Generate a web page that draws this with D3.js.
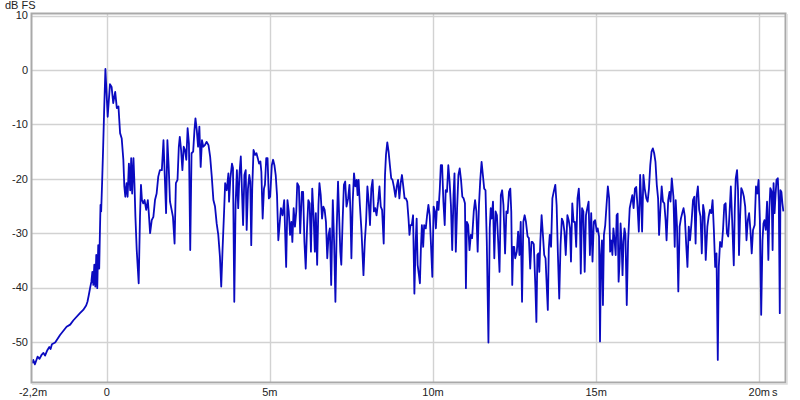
<!DOCTYPE html>
<html><head><meta charset="utf-8">
<script src="https://cdn.jsdelivr.net/npm/d3@7"></script>
<style>
html,body{margin:0;padding:0;background:#fff;}
svg text{font-family:"Liberation Sans",Arial,sans-serif;font-size:11px;fill:#222;}
</style></head>
<body><svg id="c" width="800" height="400"></svg>
<script>
// Impulse response level (dB FS) vs time (ms)
const timeMs = [
-2.28,-2.25,-2.20,-2.12,-2.06,-1.99,-1.94,-1.89,-1.82,-1.76,-1.72,-1.68,-1.58,-1.43,-1.23,-1.12,-1.02,-0.82,-0.72,-0.63,-0.59,-0.55,-0.51,-0.47,-0.44,-0.41,-0.38,-0.35,-0.32,-0.29,-0.26,-0.23,-0.21,-0.19,-0.17,-0.14,-0.11,-0.08,-0.04,
0.03,0.10,0.15,0.20,0.26,0.31,0.36,0.41,0.46,0.51,0.54,0.57,0.61,0.64,0.68,0.72,0.75,0.78,0.82,0.85,0.88,0.92,0.98,1.02,1.05,1.08,1.12,1.16,1.21,1.26,1.29,1.33,1.38,1.43,1.48,1.53,1.58,1.63,1.69,1.74,1.78,1.82,1.86,1.90,1.94,1.99,2.03,2.08,2.12,2.17,2.21,2.24,2.28,2.32,2.36,2.40,2.44,2.48,2.52,2.56,2.60,2.65,2.69,2.72,2.76,2.80,2.84,2.88,2.92,2.96,3.01,3.06,3.12,3.17,3.22,3.27,3.32,3.37,3.42,3.47,3.51,3.55,3.60,3.63,3.68,3.73,
3.75,3.79,3.84,3.87,3.91,3.95,3.99,4.03,4.07,4.11,4.15,4.18,4.22,4.26,4.29,4.33,4.37,4.40,4.43,4.46,4.50,4.55,4.59,4.63,4.67,4.71,4.74,4.78,4.82,4.85,4.89,4.93,4.97,5.01,5.06,5.10,5.14,5.18,5.22,5.26,
5.34,5.39,5.44,5.50,5.54,5.58,5.62,5.66,5.69,5.73,5.77,5.81,5.84,5.89,5.93,5.98,6.02,6.06,6.10,6.14,6.18,6.22,6.26,6.30,6.34,6.38,6.41,6.45,6.49,6.52,6.56,6.60,6.64,6.68,6.72,6.76,6.80,6.84,6.88,6.93,6.97,7.01,7.05,7.09,7.13,7.16,7.19,7.23,7.27,7.31,7.35,7.40,7.44,7.47,7.50,7.54,7.58,7.62,7.66,7.69,7.72,7.76,7.81,7.87,7.91,7.95,7.99,8.03,8.07,8.11,8.15,8.19,8.23,8.27,8.32,8.36,8.40,8.44,8.49,8.53,8.56,8.60,8.64,8.68,8.72,8.76,8.80,8.85,8.89,8.93,8.97,9.01,9.05,9.09,9.13,9.17,9.21,9.25,9.28,
9.31,9.35,9.39,9.43,9.47,9.50,9.53,9.57,9.60,9.63,9.66,9.70,9.73,9.78,9.82,9.86,9.90,9.94,9.98,10.02,10.06,10.09,10.13,10.17,10.21,10.24,10.28,10.32,10.36,10.39,10.43,10.47,10.51,10.55,10.59,10.63,10.66,10.70,10.74,10.78,10.82,10.86,10.90,10.94,10.98,11.01,11.04,11.08,11.12,11.16,11.20,11.25,11.29,11.33,11.37,11.41,11.45,11.49,11.53,11.57,11.61,11.65,11.70,11.74,11.77,11.80,11.84,11.88,11.92,11.96,12.00,12.04,12.08,12.12,12.16,12.21,12.25,12.29,12.33,12.37,12.40,12.43,12.46,12.49,12.52,12.57,12.61,12.65,12.69,12.73,12.77,12.81,12.85,12.90,12.94,12.98,13.02,13.05,13.09,
13.14,13.17,13.20,13.23,13.26,13.29,13.33,13.37,13.41,13.45,13.49,13.52,13.55,13.58,13.62,13.66,13.70,13.75,13.79,13.83,13.87,13.91,13.95,13.99,14.03,14.07,14.12,14.16,14.20,14.23,14.27,14.31,14.35,14.39,14.43,14.47,14.50,14.53,14.57,14.61,14.65,14.69,14.73,14.77,14.81,14.85,14.89,14.93,14.97,15.02,15.05,15.09,15.12,15.15,15.18,15.21,15.24,15.28,15.32,15.36,15.40,15.43,15.46,15.50,15.53,15.57,15.60,15.63,15.66,15.69,15.72,15.75,15.78,15.81,15.84,15.87,15.90,15.94,15.98,16.03,16.07,16.11,16.15,16.19,16.23,16.27,16.31,16.35,16.38,16.41,16.45,16.49,16.54,16.58,16.62,16.66,16.70,16.74,16.78,16.82,16.86,16.90,16.93,
16.97,17.01,17.05,17.09,17.13,17.16,17.21,17.25,17.28,17.32,17.37,17.41,17.44,17.48,17.52,17.56,17.60,17.64,17.68,17.72,17.76,17.80,17.84,17.88,17.93,17.97,18.01,18.05,18.08,18.12,18.16,18.20,18.24,18.28,18.32,18.36,18.41,18.45,18.49,18.53,18.57,18.61,18.65,18.69,18.73,18.76,18.80,18.85,18.89,18.93,18.97,19.01,19.05,19.09,19.13,19.17,19.22,19.25,19.28,19.32,19.35,19.38,19.41,19.45,19.49,19.53,19.57,19.61,19.65,19.69,19.73,19.77,19.81,19.86,19.90,19.94,19.98,20.02,20.06,20.10,20.13,20.16,20.20,20.24,20.28,20.31,20.34,20.38,20.41,20.44,20.47,20.50,20.53,20.57,20.60,20.63,20.65,20.68,20.71,20.74,20.78
];
const levelDb = [
-53.9,-53.3,-54.1,-52.7,-53.1,-52.3,-52.0,-52.5,-51.5,-50.9,-51.3,-50.4,-50.1,-48.7,-47.2,-46.8,-46.0,-44.7,-44.1,-43.3,-42.6,-41.4,-40.1,-38.9,-37.1,-39.5,-35.8,-39.8,-34.0,-40.1,-32.2,-36.5,-30.3,-24.8,-26.0,-20.5,-14.4,-7.7,0.2,
-8.6,-2.6,-3.1,-6.1,-4.0,-7.0,-6.7,-11.6,-12.6,-16.5,-21.4,-23.3,-20.8,-23.3,-17.2,-22.1,-16.2,-22.7,-16.2,-20.8,-27.0,-33.1,-39.2,-27.0,-21.1,-23.9,-24.5,-23.9,-25.7,-23.9,-26.3,-30.0,-27.6,-27.0,-23.9,-22.7,-19.6,-18.4,-18.4,-12.9,-19.6,-26.3,-12.9,-17.8,-24.2,-25.7,-27.0,-31.9,-20.8,-20.2,-14.1,-12.3,-14.7,-18.4,-14.1,-14.7,-16.5,-10.7,-13.5,-33.1,-15.3,-15.0,-11.0,-8.9,-11.0,-14.1,-10.4,-17.8,-12.9,-14.1,-13.8,-13.2,-13.8,-15.9,-19.6,-23.9,-25.1,-28.2,-30.3,-34.3,-39.8,-33.1,-25.7,-20.8,-22.1,-19.0,
-24.2,-19.9,-17.2,-18.0,-42.6,-24.8,-18.4,-25.4,-19.0,-15.9,-23.0,-28.5,-19.3,-18.4,-29.4,-21.8,-19.3,-20.5,-32.2,-21.8,-14.7,-15.6,-15.3,-16.2,-17.2,-16.8,-18.7,-27.3,-21.8,-21.1,-16.2,-16.2,-23.6,-23.3,-17.5,-16.5,-17.5,-19.3,-23.0,-31.3,
-25.4,-26.7,-23.9,-36.2,-23.9,-26.0,-30.3,-27.9,-31.6,-25.4,-28.8,-26.0,-20.8,-21.4,-30.0,-22.4,-22.4,-31.6,-36.5,-29.1,-23.9,-24.5,-33.4,-21.8,-26.7,-33.4,-26.3,-35.8,-24.8,-20.8,-23.0,-27.3,-25.1,-25.7,-27.9,-34.6,-30.3,-29.1,-39.5,-23.9,-31.6,-42.6,-29.1,-20.5,-27.9,-33.4,-35.8,-27.9,-21.1,-20.5,-25.1,-23.6,-21.1,-26.0,-34.6,-24.2,-19.0,-21.4,-20.2,-23.0,-20.2,-24.8,-29.7,-37.7,-31.6,-27.9,-21.4,-24.2,-28.5,-21.8,-20.2,-26.0,-25.4,-26.7,-24.2,-21.4,-25.1,-25.7,-31.9,-19.3,-15.6,-13.3,-15.0,-17.5,-19.9,-20.2,-21.4,-23.3,-21.4,-20.2,-23.6,-20.8,-19.3,-21.4,-23.6,-23.6,-24.2,-27.3,-30.3,
-28.5,-28.5,-26.7,-41.1,-31.6,-27.3,-35.8,-37.7,-39.2,-32.8,-28.5,-32.5,-28.5,-29.1,-26.7,-24.8,-26.7,-32.2,-38.0,-25.1,-26.0,-29.1,-24.2,-25.7,-21.8,-17.5,-17.5,-24.2,-28.5,-22.1,-22.4,-17.5,-20.5,-24.8,-33.1,-23.0,-19.0,-33.4,-25.4,-19.3,-18.1,-20.2,-23.3,-23.6,-24.5,-40.1,-27.9,-28.5,-33.1,-30.3,-30.9,-26.0,-23.9,-26.0,-33.4,-24.8,-20.2,-16.9,-19.3,-21.8,-22.1,-31.6,-50.1,-29.1,-25.4,-27.3,-24.2,-34.6,-26.0,-26.7,-31.6,-37.1,-23.0,-22.1,-24.8,-33.7,-26.0,-26.3,-22.4,-21.8,-26.0,-39.5,-32.5,-32.5,-34.6,-33.4,-29.7,-34.0,-27.9,-42.6,-27.9,-26.7,-27.9,-30.6,-30.9,-36.5,-31.6,-31.6,-32.0,
-40.1,-46.3,-34.0,-33.7,-37.1,-31.6,-26.7,-30.3,-34.0,-34.6,-40.1,-44.1,-32.8,-30.3,-32.5,-23.6,-22.4,-21.1,-24.8,-34.0,-42.0,-32.2,-27.3,-27.9,-29.7,-34.0,-26.7,-27.6,-29.1,-35.2,-24.5,-27.9,-27.9,-32.5,-23.6,-21.8,-25.4,-37.4,-25.4,-26.0,-37.1,-26.7,-25.4,-24.2,-34.0,-26.3,-35.2,-27.9,-27.6,-29.7,-29.1,-30.6,-49.9,-34.0,-31.3,-43.2,-30.3,-28.5,-24.8,-21.4,-23.6,-33.4,-31.3,-34.0,-29.1,-31.6,-34.0,-26.7,-26.4,-38.9,-35.2,-28.2,-31.6,-37.7,-31.6,-29.1,-30.3,-43.2,-31.6,-25.4,-24.2,-23.0,-25.4,-21.8,-21.5,-25.1,-29.7,-19.3,-23.6,-29.7,-19.3,-21.8,-23.6,-24.2,-21.8,-17.5,-15.0,-14.4,-15.3,-16.9,-21.1,-23.6,-30.3,
-25.7,-21.4,-24.2,-24.5,-27.6,-31.3,-23.9,-22.4,-24.2,-19.9,-23.3,-32.5,-23.9,-28.8,-40.7,-28.8,-27.3,-26.3,-25.4,-26.9,-31.9,-36.2,-28.8,-31.3,-27.6,-23.9,-23.3,-31.9,-23.3,-21.4,-25.7,-26.9,-33.7,-24.8,-26.3,-34.9,-28.8,-26.9,-25.7,-26.3,-23.9,-29.4,-36.2,-33.7,-53.3,-36.2,-31.6,-32.5,-29.4,-24.8,-24.5,-30.0,-30.6,-26.3,-21.4,-27.6,-35.9,-25.7,-19.9,-18.4,-22.1,-34.0,-27.6,-21.7,-22.3,-23.3,-25.1,-31.3,-27.6,-26.3,-29.4,-33.7,-29.4,-28.5,-21.4,-22.7,-20.2,-27.6,-45.0,-31.3,-28.2,-27.6,-29.4,-24.2,-34.9,-25.7,-21.7,-22.3,-33.1,-20.8,-26.3,-23.0,-20.2,-19.9,-24.2,-44.7,-22.1,-22.4,-24.5,-26.0
];
const yTicks = [10, 0, -10, -20, -30, -40, -50];
const xGridTicks = [0, 5, 10, 15, 20];
const xTickValues = [-2.2, 0, 5, 10, 15, 20];
const xTickLabels = ["-2,2m", "0", "5m", "10m", "15m", "20m"];
const yUnit = "dB FS";
const xUnit = "s";

const svg = d3.select("#c");
const L = 32, R = 785, T = 14, B = 382;
const x = d3.scaleLinear().domain([-2.29, 20.79]).range([L, R]);
const y = d3.scaleLinear().domain([10.3, -57.35]).range([T, B]);

// gridlines
svg.append("g").selectAll("line").data(yTicks).join("line")
  .attr("x1", L).attr("x2", R).attr("y1", d => Math.round(y(d)) + 0.5).attr("y2", d => Math.round(y(d)) + 0.5)
  .attr("stroke", "#d2d2d2").attr("stroke-width", 1.4);
svg.append("g").selectAll("line").data(xGridTicks).join("line")
  .attr("y1", T).attr("y2", B).attr("x1", d => Math.round(x(d)) + 0.5).attr("x2", d => Math.round(x(d)) + 0.5)
  .attr("stroke", "#d2d2d2").attr("stroke-width", 1.4);

// data line
const pts = timeMs.map((t, i) => [t, levelDb[i]]);
svg.append("defs").append("clipPath").attr("id", "clip")
  .append("rect").attr("x", L).attr("y", T).attr("width", R - L).attr("height", B - T);
svg.append("path").datum(pts)
  .attr("clip-path", "url(#clip)")
  .attr("fill", "none").attr("stroke", "#0a0ac0").attr("stroke-width", 1.8)
  .attr("stroke-linejoin", "round")
  .attr("d", d3.line().x(d => x(d[0])).y(d => y(d[1])));

// frame
svg.append("rect").attr("x", L - 0.5).attr("y", T - 0.5).attr("width", R - L + 1).attr("height", B - T + 1)
  .attr("fill", "none").attr("stroke", "#a9a9a9").attr("stroke-width", 2);
svg.append("path").attr("d", `M${R + 2},${T} V${B + 2} H${L}`)
  .attr("fill", "none").attr("stroke", "#dcdcdc").attr("stroke-width", 1.5);

// axes labels
svg.append("g").selectAll("text").data(yTicks).join("text")
  .attr("x", 28).attr("y", d => y(d)).attr("dy", "0.35em").attr("text-anchor", "end").text(d => d);
svg.append("g").selectAll("text").data(xTickValues).join("text")
  .attr("x", (d, i) => i === 0 ? 33 : x(d)).attr("y", 396).attr("text-anchor", "middle")
  .text((d, i) => xTickLabels[i]);
svg.append("text").attr("x", 772).attr("y", 396).text(xUnit);
svg.append("text").attr("x", 5).attr("y", 9).text(yUnit);
</script></body></html>
